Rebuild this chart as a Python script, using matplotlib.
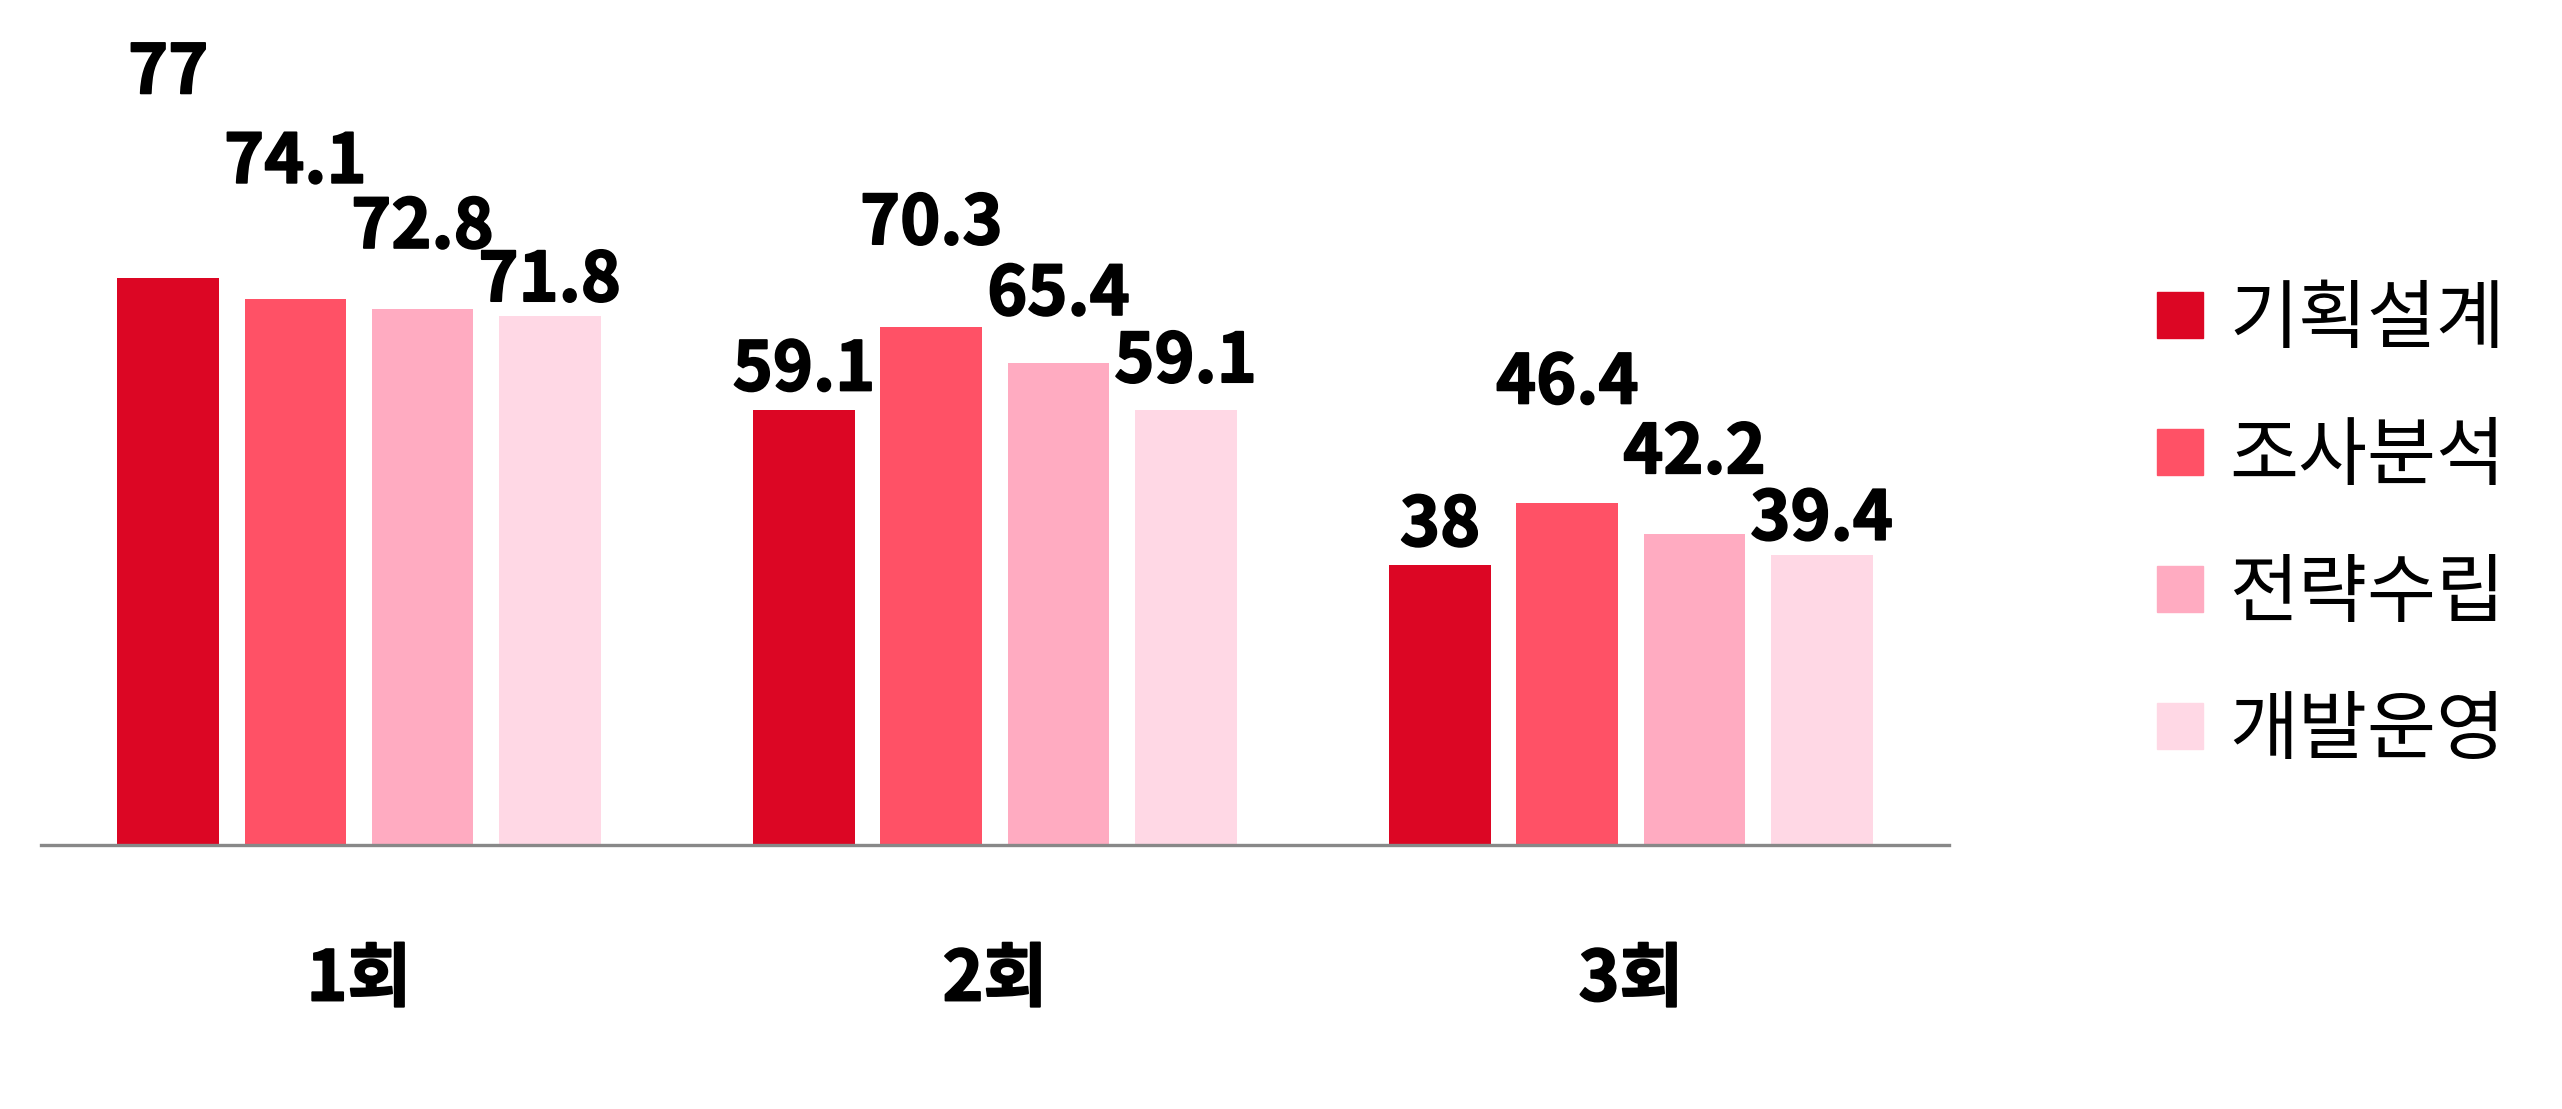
import matplotlib
matplotlib.use("Agg")
import matplotlib.pyplot as plt
import matplotlib.patches as mpatches
import matplotlib.patheffects as pe
import numpy as np

plt.rcParams['font.family'] = ['Noto Sans CJK KR', 'DejaVu Sans']

# data
rounds = ['1회', '2회', '3회']
series = ['기획설계', '조사분석', '전략수립', '개발운영']
plan = [77, 59.1, 38]
research = [74.1, 70.3, 46.4]
strategy = [72.8, 65.4, 42.2]
develop = [71.8, 59.1, 39.4]

colors = ['#DC0624', '#FF5166', '#FFABC1', '#FFD8E5']
# label offsets above bar tops (points), staggered so labels don't collide
label_off = [
    [147, 28, 28],
    [98, 74, 86],
    [58, 49, 58],
    [25, 34, 25],
]
heavy = [pe.withStroke(linewidth=1.3, foreground='black')]

fig = plt.figure(figsize=(25.62, 11.09), dpi=100)
ax = fig.add_axes([0.016, 0.238, 0.7447, 0.664])

x = np.arange(len(rounds))
width = 0.16
step = 0.2
for i, vals in enumerate([plan, research, strategy, develop]):
    pos = x + (i - 1.5) * step
    ax.bar(pos, vals, width=width, color=colors[i], label=series[i])
    for j, v in enumerate(vals):
        ax.annotate(f'{v:g}', (pos[j], v), xytext=(0, label_off[i][j]),
                    textcoords='offset points', ha='center', va='center',
                    fontsize=49, fontweight='bold', annotation_clip=False,
                    path_effects=heavy)

ax.set_xlim(-0.5, 2.5)
ax.set_ylim(0, 100)
ax.set_xticks(x, rounds)
ax.tick_params(axis='x', length=0, pad=72, labelsize=50)
for t in ax.get_xticklabels():
    t.set_fontweight('bold')
    t.set_path_effects(heavy)
ax.set_yticks([])
for s in ['top', 'right', 'left']:
    ax.spines[s].set_visible(False)
ax.spines['bottom'].set_color('#888888')
ax.spines['bottom'].set_linewidth(2.4)

handles = [mpatches.Patch(color=c, label=s) for c, s in zip(colors, series)]
fig.legend(handles=handles, loc='upper left', bbox_to_anchor=(0.842, 0.746),
           frameon=False, fontsize=54, handlelength=0.61, handleheight=0.57,
           handletextpad=0.35, labelspacing=0.8, borderpad=0, borderaxespad=0)

fig.savefig('out.png', dpi=100)
